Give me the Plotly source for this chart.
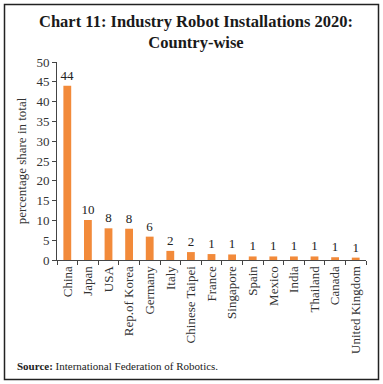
import plotly.graph_objects as go

countries = ["China", "Japan", "USA", "Rep.of Korea", "Germany", "Italy", "Chinese Taipei",
             "France", "Singapore", "Spain", "Mexico", "India", "Thailand", "Canada", "United Kingdom"]
shares = [44.0, 10.1, 8.0, 7.9, 5.9, 2.3, 2.0, 1.5, 1.4, 0.9, 0.9, 0.9, 0.9, 0.7, 0.6]
labels = ["44", "10", "8", "8", "6", "2", "2", "1", "1", "1", "1", "1", "1", "1", "1"]
y_ticks = [0, 5, 10, 15, 20, 25, 30, 35, 40, 45, 50]

W, H = 383, 384
L, R, T, B = 57, 17, 62, 124
pw, ph = W - L - R, H - T - B

def px_x(x):
    return (x - L) / pw

def px_y(y):
    return (H - B - y) / ph

serif = "Liberation Serif, DejaVu Serif, serif"

fig = go.Figure(go.Bar(
    x=countries, y=shares, text=labels, textposition="outside", constraintext="none",
    textfont=dict(family=serif, size=13, color="#222"),
    marker=dict(color="#F28A3A", line=dict(width=0)),
    width=0.38, cliponaxis=False,
))

fig.update_layout(
    width=W, height=H,
    margin=dict(l=L, r=R, t=T, b=B, pad=0),
    paper_bgcolor="white", plot_bgcolor="white",
    showlegend=False,
    font=dict(family=serif, size=13, color="#333"),
    xaxis=dict(tickangle=-90, showline=True, linecolor="#444", linewidth=1,
               ticks="outside", tickson="boundaries", ticklen=4, tickcolor="#444",
               tickfont=dict(family=serif, size=13, color="#333"), showgrid=False),
    yaxis=dict(range=[0, 50], tickvals=y_ticks, showline=True, linecolor="#444", linewidth=1,
               ticks="outside", ticklen=4, tickcolor="#444", showgrid=False, zeroline=False,
               tickfont=dict(family=serif, size=13, color="#333"),
               title=dict(text="percentage share in total", standoff=6,
                          font=dict(family=serif, size=13, color="#333"))),
    shapes=[dict(type="rect", xref="paper", yref="paper",
                 x0=px_x(4.5), x1=px_x(378.5), y0=px_y(379.5), y1=px_y(4.5),
                 line=dict(color="#222", width=1.5), layer="above")],
    annotations=[
        dict(text="<b>Chart 11: Industry Robot Installations 2020:<br>Country-wise</b>",
             xref="paper", yref="paper", x=px_x(196), y=px_y(10),
             xanchor="center", yanchor="top", showarrow=False, align="center",
             font=dict(family=serif, size=16.5, color="#1a1a1a")),
        dict(text="<b>Source:</b> International Federation of Robotics.",
             xref="paper", yref="paper", x=px_x(15), y=px_y(366),
             xanchor="left", yanchor="middle", showarrow=False,
             font=dict(family=serif, size=11, color="#222")),
    ],
)

fig.write_html("out.html", config={"displayModeBar": False},
               post_script="document.body.style.margin='0';document.body.style.padding='0';")
